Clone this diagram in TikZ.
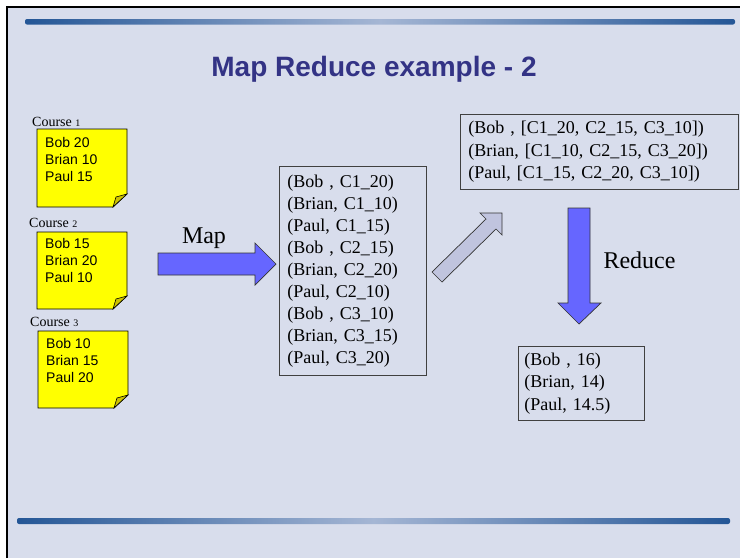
\documentclass[tikz,border=0pt]{standalone}
\usepackage{fontspec}
\setmainfont{Liberation Serif}
\newfontfamily\arialfont{Liberation Sans}
\usetikzlibrary{positioning}

\definecolor{slidebg}{RGB}{216,221,236}
\definecolor{titleblue}{RGB}{51,51,133}
\definecolor{bardark}{RGB}{36,86,150}
\definecolor{barlight}{RGB}{165,182,212}
\definecolor{noteyellow}{RGB}{255,255,0}
\definecolor{folddark}{RGB}{205,195,0}
\definecolor{mapblue}{RGB}{102,102,255}
\definecolor{shuffgray}{RGB}{192,196,222}

\begin{document}
\begin{tikzpicture}[x=1pt, y=-1pt,
  listbox/.style={draw=black!75, line width=0.8pt, anchor=north west, align=left,
    inner xsep=8pt, inner ysep=0pt, font=\fontsize{18}{22}\selectfont},
  notetext/.style={anchor=north west, align=left, inner sep=0pt,
    font=\arialfont\fontsize{14}{17}\selectfont},
  coursename/.style={anchor=base west, inner sep=0pt, font=\fontsize{14}{16}\selectfont},
  stickynote/.style={fill=noteyellow, draw=black, line width=0.7pt},
  fold/.style={fill=folddark, draw=black, line width=0.6pt},
  blockarrow/.style={draw=black!80, line width=0.7pt}]
  \useasboundingbox (0,0) rectangle (740,558);
  % slide background and frame
  \fill[white] (0,0) rectangle (740,558);
  \fill[slidebg] (6,6) rectangle (740,558);
  \draw[line width=2pt] (6.5,558) -- (6.5,6.5) -- (740,6.5);
  % shaded rules
  \shade[left color=bardark, right color=bardark, middle color=barlight, rounded corners=2pt]
    (25,19) rectangle (735,24.5);
  \shade[left color=bardark, right color=bardark, middle color=barlight, rounded corners=2pt]
    (17,518) rectangle (730,524);
  % title
  \node[anchor=base, text=titleblue, font=\arialfont\bfseries\fontsize{28}{34}\selectfont]
    (title) at (374,76) {Map Reduce example - 2};

  % course 1
  \node[coursename] (c1) at (32,126) {Course {\fontsize{10}{12}\selectfont 1}};
  \draw[stickynote] (37,129) -- (127,129) -- (127,194) -- (113,207) -- (37,207) -- cycle;
  \draw[fold] (113,207) .. controls (114,202) .. (116,197) -- (127,194) -- cycle;
  \node[notetext] (note1) at (45,137) {Bob 20\\Brian 10\\Paul 15};
  % course 2
  \node[coursename] (c2) at (29,227) {Course {\fontsize{10}{12}\selectfont 2}};
  \draw[stickynote] (37,232) -- (127,232) -- (127,296) -- (113,309) -- (37,309) -- cycle;
  \draw[fold] (113,309) .. controls (114,304) .. (116,299) -- (127,296) -- cycle;
  \node[notetext] (note2) at (45,238) {Bob 15\\Brian 20\\Paul 10};
  % course 3
  \node[coursename] (c3) at (30,326) {Course {\fontsize{10}{12}\selectfont 3}};
  \draw[stickynote] (38,331) -- (128,331) -- (128,395) -- (114,408) -- (38,408) -- cycle;
  \draw[fold] (114,408) .. controls (115,403) .. (117,398) -- (128,395) -- cycle;
  \node[notetext] (note3) at (46,338) {Bob 10\\Brian 15\\Paul 20};

  % map step
  \filldraw[blockarrow, fill=mapblue] (158,253) -- (255,253) -- (255,243) -- (276,264)
    -- (255,285) -- (255,275) -- (158,275) -- cycle;
  \node[anchor=base, font=\fontsize{24}{28}\selectfont] (maplabel) at (204,243) {Map};
  \node[listbox, minimum width=147pt, minimum height=209pt, text width=131pt]
    (pairs) at (279,166) {(Bob , C1\_20)\\(Brian, C1\_10)\\(Paul, C1\_15)\\(Bob , C2\_15)\\(Brian, C2\_20)\\(Paul, C2\_10)\\(Bob , C3\_10)\\(Brian, C3\_15)\\(Paul, C3\_20)};

  % grouping step
  \filldraw[blockarrow, fill=shuffgray] (432,272) -- (486,219) -- (480,213) -- (502,213)
    -- (502,235) -- (496,229) -- (442,282) -- cycle;
  \node[listbox, font=\fontsize{18}{22.5}\selectfont, minimum width=278pt, minimum height=75pt,
    text width=262pt] (groups) at (460,114)
    {(Bob , [C1\_20, C2\_15, C3\_10])\\(Brian, [C1\_10, C2\_15, C3\_20])\\(Paul, [C1\_15, C2\_20, C3\_10])};

  % reduce step
  \filldraw[blockarrow, fill=mapblue] (568,208) -- (590,208) -- (590,303) -- (601,303)
    -- (579,324) -- (558,303) -- (568,303) -- cycle;
  \node[anchor=base west, font=\fontsize{24}{28}\selectfont] (redlabel) at (600,268) {Reduce};
  \node[listbox, font=\fontsize{18}{22.5}\selectfont, inner xsep=6pt, minimum width=126pt,
    minimum height=74pt, text width=114pt] (averages) at (518,346)
    {(Bob , 16)\\(Brian, 14)\\(Paul, 14.5)};
\end{tikzpicture}
\end{document}
